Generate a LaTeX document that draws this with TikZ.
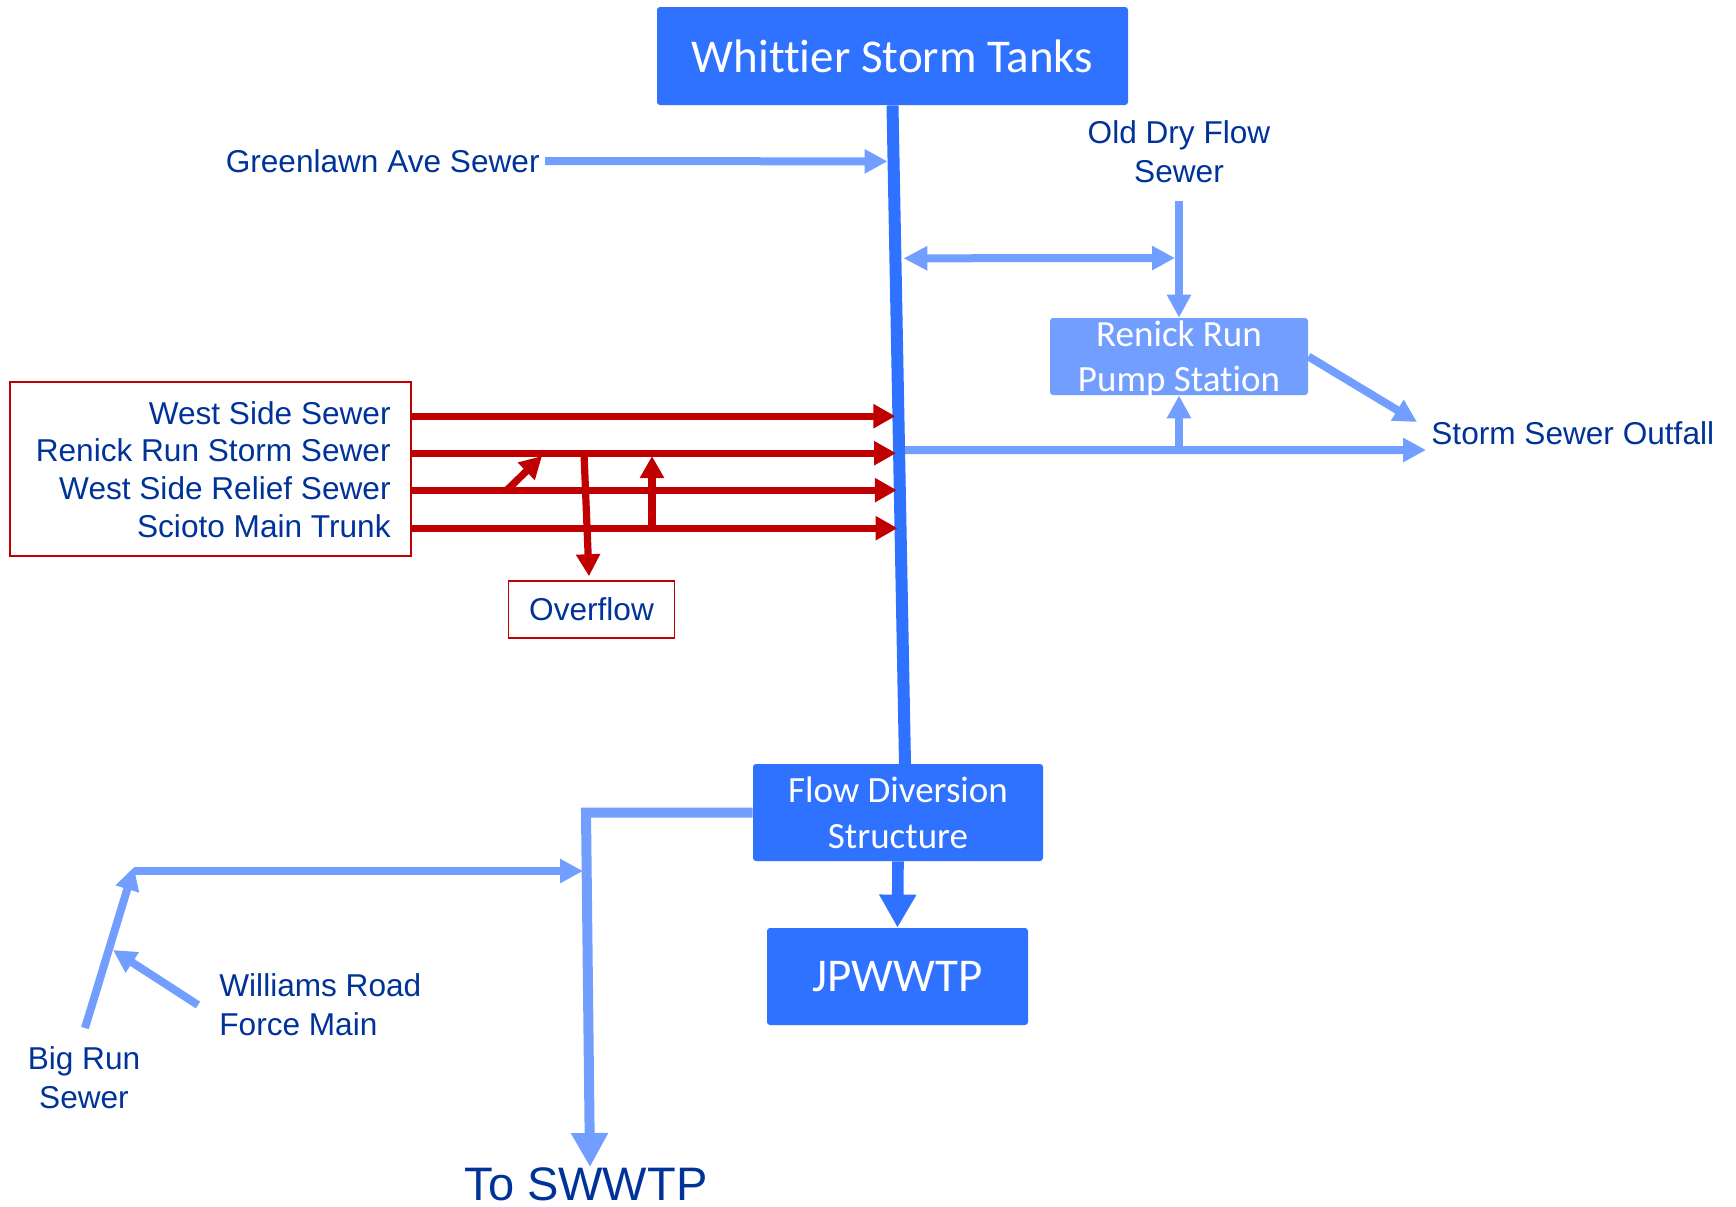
\documentclass[tikz,border=0pt]{standalone}
\usepackage{fontspec}
\setmainfont{Liberation Sans}
\newfontfamily\calfont[Ligatures=NoCommon]{Carlito}
\usetikzlibrary{arrows.meta,calc}
\definecolor{dkb}{RGB}{0,51,153}
\definecolor{mblue}{RGB}{46,114,255}
\definecolor{lblue}{RGB}{114,159,255}
\definecolor{rd}{RGB}{192,0,0}
\begin{document}
\begin{tikzpicture}[x=0.5pt,y=-0.5pt,
  lbl/.style={text=dkb,font=\fontsize{15.8}{19.5}\selectfont,inner sep=0pt,align=center},
  bigbox/.style={fill=mblue,text=white,inner sep=0pt,rounded corners=1.5pt,align=center},
  lbbox/.style={fill=lblue,text=white,inner sep=0pt,rounded corners=1.5pt,align=center},
  lbarrow/.style={draw=lblue,line width=4pt,-{Triangle[length=11.5pt,width=11.5pt]}},
  rdarrow/.style={draw=rd,line width=3.6pt,-{Triangle[length=11pt,width=11.5pt]}},
  mainline/.style={draw=mblue,line width=6pt}]
\useasboundingbox (0,0) rectangle (1736,1206);

% boxes
\node[bigbox,minimum width=235.5pt,minimum height=49pt,font=\calfont\fontsize{23.5}{28}\selectfont] (wst) at (892.5,56) {Whittier Storm Tanks};
\node[lbbox,minimum width=129pt,minimum height=38.5pt] (rps) at (1179,356.5) {};
\node[text=white,inner sep=0pt,align=center,font=\calfont\fontsize{18.5}{22.5}\selectfont] (rpst) at ([yshift=-1.5pt]rps.center) {Renick Run\\Pump Station};
\node[bigbox,minimum width=145pt,minimum height=48.5pt,font=\calfont\fontsize{18.5}{23}\selectfont] (fds) at (898,812.5) {Flow Diversion\\Structure};
\node[bigbox,minimum width=130.5pt,minimum height=48.5pt,font=\calfont\fontsize{23.5}{28}\selectfont] (jp) at (897.5,976.5) {JPWWTP};
\node[draw=rd,line width=0.8pt,minimum width=200.5pt,minimum height=87pt,inner sep=0pt] (redbox) at (210.5,469) {};
\node[draw=rd,line width=0.8pt,minimum width=83pt,minimum height=28.5pt,inner sep=0pt,lbl] (ovf) at (591.5,609.5) {Overflow};

% labels
\node[lbl,anchor=east] (ws) at (391,413) {West Side Sewer};
\node[lbl,anchor=east] (rr) at (391,450.5) {Renick Run Storm Sewer};
\node[lbl,anchor=east] (wsr) at (391,488) {West Side Relief Sewer};
\node[lbl,anchor=east] (smt) at (391,526) {Scioto Main Trunk};
\node[lbl,anchor=east] (gl) at (540,161) {Greenlawn Ave Sewer};
\node[lbl] (odf) at (1179,152) {Old Dry Flow\\Sewer};
\node[lbl,anchor=west] (sso) at (1431,433) {Storm Sewer Outfall};
\node[lbl,anchor=west,align=left] (wrl) at (219,1005) {Williams Road\\Force Main};
\node[lbl] (brl) at (84,1078) {Big Run\\Sewer};
\node[text=dkb,font=\fontsize{23.5}{28}\selectfont,inner sep=0pt,anchor=base] (tosw) at (586,1200) {To SWWTP};

% coordinates
\coordinate (mbot) at (905,764);
\coordinate (mg) at ($(wst.south)!0.085!(mbot)$);
\coordinate (md) at ($(wst.south)!0.2322!(mbot)$);
\coordinate (m1) at ($(wst.south)!0.4719!(mbot)$);
\coordinate (m2) at ($(wst.south)!0.5281!(mbot)$);
\coordinate (m3) at ($(wst.south)!0.5842!(mbot)$);
\coordinate (m4) at ($(wst.south)!0.6419!(mbot)$);
\coordinate (mo) at ($(wst.south)!0.5235!(mbot)$);
\coordinate (odtop) at (1179,201);
\coordinate (odj) at (1175,258);
\coordinate (oj) at (1179,450);
\coordinate (outf) at (1426,450);
\coordinate (ssot) at (1417,422);
\coordinate (rv1) at (507,490);
\coordinate (rv2) at (542,456);
\coordinate (ov1) at (584,453);
\coordinate (up1) at (652,528);
\coordinate (up2) at (652,456);
\coordinate (c1) at (586,812.5);
\coordinate (swt) at (590,1167);
\coordinate (brs) at (85,1028);
\coordinate (brt) at (134,867);
\coordinate (brh) at (134,871);
\coordinate (brj) at (583,871);
\coordinate (wr1) at (198,1005);
\coordinate (wr2) at (113,950);

% main line
\draw[mainline] (wst.south) -- (mbot);
\draw[draw=mblue,line width=5.8pt,-{Triangle[length=16.5pt,width=17.5pt]}] (fds.south) -- (jp.north);

% light blue connectors
\draw[lbarrow] ([xshift=2.5pt]gl.east) -- ([xshift=-3pt]mg);
\draw[draw=lblue,line width=4pt,{Triangle[length=12pt,width=11.5pt]}-{Triangle[length=11.5pt,width=11.5pt]}] ([xshift=4pt]md) -- (odj);
\draw[lbarrow] (odtop) -- (rps.north);
\draw[lbarrow] ([xshift=3pt]mo) -- (outf);
\draw[lbarrow] (oj) -- (rps.south);
\draw[lbarrow] (rps.east) -- (ssot);
\draw[draw=lblue,line width=5pt,-{Triangle[length=17pt,width=17.5pt]}] (fds.west) -- (c1) -- (swt);
\draw[lbarrow] (brs) -- (brt);
\draw[lbarrow] (brh) -- (brj);
\draw[lbarrow] (wr1) -- (wr2);

% red connectors
\draw[rdarrow] (m1 -| redbox.east) -- ([xshift=-1.5pt]m1);
\draw[rdarrow] (m2 -| redbox.east) -- ([xshift=-1.5pt]m2);
\draw[rdarrow] (m3 -| redbox.east) -- ([xshift=-1.5pt]m3);
\draw[rdarrow] (m4 -| redbox.east) -- ([xshift=-1.5pt]m4);
\draw[rdarrow] (rv1) -- (rv2);
\draw[rdarrow] (ov1) -- ($(ovf.north)+(-2.5,-4)$);
\draw[rdarrow] (up1) -- (up2);
\end{tikzpicture}
\end{document}
